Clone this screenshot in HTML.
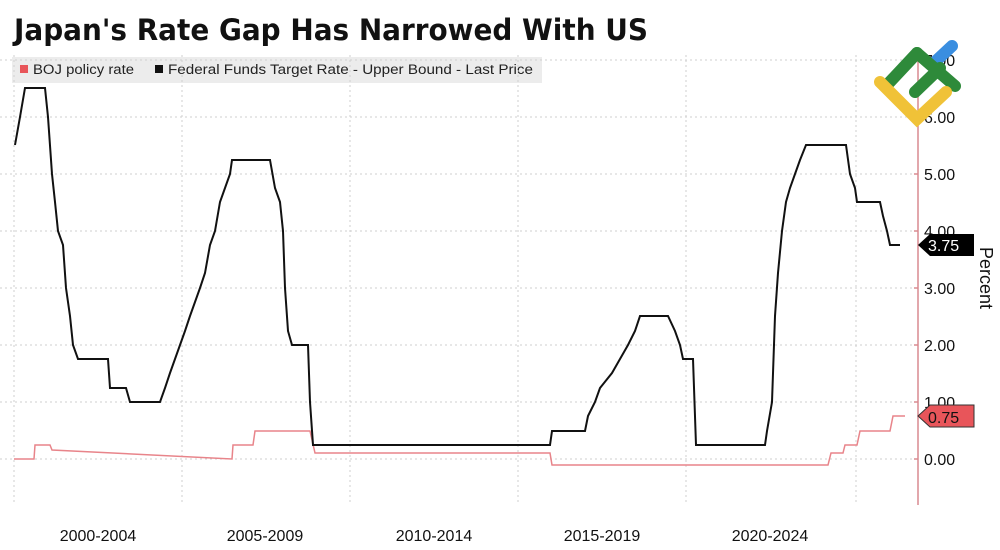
<!DOCTYPE html>
<html><head><meta charset="utf-8"><style>
body{margin:0;background:#fff;width:1000px;height:545px;overflow:hidden;font-family:"Liberation Sans",sans-serif}
</style></head><body>
<svg width="1000" height="545" xmlns="http://www.w3.org/2000/svg" font-family="Liberation Sans, sans-serif">
<text x="14" y="40" font-size="29" font-weight="bold" fill="#111" textLength="634" lengthAdjust="spacingAndGlyphs" font-family="DejaVu Sans, sans-serif">Japan's Rate Gap Has Narrowed With US</text>
<rect x="12" y="57" width="530" height="26" fill="#ececec"/>
<rect x="20" y="65" width="8" height="8" fill="#e8555a"/>
<text x="33" y="74" font-size="13.5" fill="#222" textLength="101" lengthAdjust="spacingAndGlyphs">BOJ policy rate</text>
<rect x="155" y="65" width="8" height="8" fill="#111"/>
<text x="168" y="74" font-size="13.5" fill="#222" textLength="365" lengthAdjust="spacingAndGlyphs">Federal Funds Target Rate - Upper Bound - Last Price</text>
<g stroke="#cfcfcf" stroke-dasharray="2,3" stroke-width="1">
<line x1="0" x2="918" y1="459" y2="459"/><line x1="0" x2="918" y1="402" y2="402"/><line x1="0" x2="918" y1="345" y2="345"/><line x1="0" x2="918" y1="288" y2="288"/><line x1="0" x2="918" y1="231" y2="231"/><line x1="0" x2="918" y1="174" y2="174"/><line x1="0" x2="918" y1="117" y2="117"/><line x1="0" x2="918" y1="60" y2="60"/>
<line x1="182" x2="182" y1="55" y2="505"/><line x1="350" x2="350" y1="55" y2="505"/><line x1="518" x2="518" y1="55" y2="505"/><line x1="686" x2="686" y1="55" y2="505"/><line x1="856" x2="856" y1="55" y2="505"/><line x1="14" x2="14" y1="55" y2="505"/>
</g>
<line x1="918" x2="918" y1="50" y2="505" stroke="#d98a90" stroke-width="1.5"/>
<g stroke="#d98a90" stroke-width="1.5">
<line x1="914" x2="918" y1="459" y2="459"/><line x1="914" x2="918" y1="402" y2="402"/><line x1="914" x2="918" y1="345" y2="345"/><line x1="914" x2="918" y1="288" y2="288"/><line x1="914" x2="918" y1="231" y2="231"/><line x1="914" x2="918" y1="174" y2="174"/><line x1="914" x2="918" y1="117" y2="117"/><line x1="914" x2="918" y1="60" y2="60"/>
</g>
<g font-size="16" fill="#111">
<text x="924" y="465">0.00</text><text x="924" y="408">1.00</text><text x="924" y="351">2.00</text><text x="924" y="294">3.00</text><text x="924" y="237">4.00</text><text x="924" y="180">5.00</text><text x="924" y="123">6.00</text><text x="924" y="66">7.00</text>
</g>
<text transform="translate(980,278) rotate(90)" font-size="18" fill="#111" text-anchor="middle">Percent</text>
<g font-size="16" fill="#111" text-anchor="middle">
<text x="98" y="541">2000-2004</text><text x="265" y="541">2005-2009</text><text x="434" y="541">2010-2014</text><text x="602" y="541">2015-2019</text><text x="770" y="541">2020-2024</text>
</g>
<polyline fill="none" stroke="#e8848a" stroke-width="1.5" points="14,459 34,459 35,445 50,445 52,450 232,459 233,445 253,445 255,431 310,431 315,453 550,453 552,465 828,465 831,453 843,453 845,445 857,445 860,431 890,431 893,416 905,416"/>
<polyline fill="none" stroke="#111" stroke-width="2" points="15,145 20,117 25,88 45,88 48,117 52,174 55,202 58,231 63,245 66,288 70,316 73,345 78,359 108,359 110,388 126,388 130,402 160,402 165,388 170,373 175,359 180,345 185,331 190,316 195,302 200,288 205,273 210,245 215,231 220,202 225,188 230,174 232,160 270,160 275,188 280,202 283,231 285,288 288,331 292,345 308,345 310,402 313,445 550,445 552,431 585,431 588,416 595,402 600,388 612,373 620,359 628,345 635,331 640,316 668,316 675,331 680,345 683,359 693,359 696,445 765,445 767,431 772,402 775,316 778,273 782,231 786,202 790,188 795,174 800,160 806,145 846,145 850,174 855,188 857,202 880,202 883,216 887,231 890,245 900,245"/>
<polygon points="918,245 930,234 974,234 974,256 930,256" fill="#000"/>
<text x="928" y="251" font-size="16" fill="#fff">3.75</text>
<polygon points="918,416 930,405 974,405 974,427 930,427" fill="#e8555a" stroke="#333" stroke-width="1"/>
<text x="928" y="423" font-size="16" fill="#111">0.75</text>
<g stroke-linecap="round" fill="none" stroke-width="12">
<line x1="952" y1="46" x2="937" y2="60" stroke="#3a8ee0"/>
<line x1="887" y1="85" x2="917" y2="53" stroke="#2e8a3a"/>
<line x1="917" y1="53" x2="955" y2="86" stroke="#2e8a3a"/>
<line x1="940" y1="68" x2="915" y2="92" stroke="#2e8a3a"/>
<polyline points="880,82 917,119 946,92" stroke="#f0c238"/>
</g>
</svg>
</body></html>
